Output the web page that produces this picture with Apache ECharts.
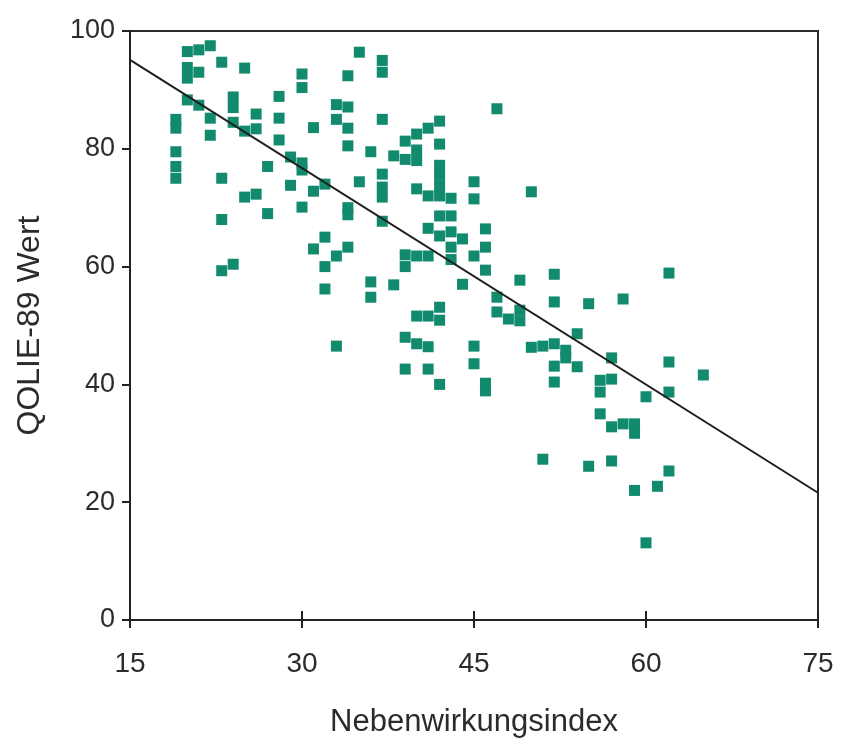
<!DOCTYPE html>
<html><head><meta charset="utf-8">
<script src="https://cdn.jsdelivr.net/npm/echarts@6/dist/echarts.min.js"></script>
<style>html,body{margin:0;padding:0;background:#fff}#c{width:849px;height:746px}</style>
</head><body><div id="c"></div>
<script>
// Tick values
const xTicks = [15, 30, 45, 60, 75];
const yTicks = [0, 20, 40, 60, 80, 100];

// Scatter points: Nebenwirkungsindex (x) and QOLIE-89 Wert (y), paired by index
const nebenwirkungsindex = [
  19,19,19,19,19, 20,20,20,20, 21,21,21, 22,22,22, 23,23,23,23, 24,24,24,24,
  25,25,25, 26,26,26, 27,27, 28,28,28, 29,29, 30,30,30,30,30, 31,31,31,
  32,32,32,32, 33,33,33,33, 34,34,34,34,34,34,34, 35,35, 36,36,36,
  37,37,37,37,37,37,37, 38,38, 39,39,39,39,39,39, 40,40,40,40,40,40,40,
  41,41,41,41,41,41,41, 42,42,42,42,42,42,42,42,42,42,42, 43,43,43,43,43,
  44,44, 45,45,45,45,45, 46,46,46,46,46, 47,47,47, 48, 49,49,49, 50,50,
  51,51, 52,52,52,52,52, 53,53, 54,54, 55,55, 56,56,56, 57,57,57,57,
  58,58, 59,59,59, 60,60, 61, 62,62,62,62, 65
];
const qolieWert = [
  85,83.5,79.5,77,75, 96.5,93.8,92,88.3, 96.8,93,87.4, 97.5,85.2,82.3, 94.7,75,68,59.3, 88.8,87,84.5,60.4,
  93.7,83,71.8, 85.9,83.4,72.3, 77,69, 88.9,85.2,81.5, 78.6,73.8, 92.7,90.4,77.6,76.4,70.1, 83.6,72.8,63,
  74,65,60,56.2, 87.5,85,61.8,46.5, 92.4,87.1,83.5,80.5,70,68.8,63.3, 96.4,74.4, 79.5,57.4,54.8,
  95,93,85,75.7,73.5,71.8,67.7, 78.8,56.9, 81.3,78.2,62,60,48,42.6, 82.5,79.8,78,73.2,61.8,51.6,46.9,
  83.5,72,66.5,61.8,51.6,46.4,42.6, 84.7,80.8,77.2,75.5,73.7,72,68.6,65.2,53.1,50.9,40, 71.6,68.6,65.9,63.3,61.2,
  64.7,57, 74.4,71.5,61.8,46.5,43.5, 66.4,63.3,59.4,40.2,38.9, 86.8,54.8,52.3, 51.1, 57.7,52.6,50.8, 72.7,46.3,
  46.5,27.3, 58.7,54,46.9,43.1,40.4, 45.8,44.5, 48.6,43, 53.7,26.1, 40.7,38.7,35, 44.5,40.9,32.8,27,
  54.5,33.3, 33.3,31.7,22, 37.9,13.1, 22.7, 58.9,43.8,38.7,25.3, 41.6
];

// Regression line end points
const fitLineX = [15, 75];
const fitLineY = [95.1, 21.6];

const FONT = "'Liberation Sans',Arial,sans-serif";
const chart = echarts.init(document.getElementById('c'), null, {renderer: 'canvas'});

const scatterData = nebenwirkungsindex.map((x, i) => [x, qolieWert[i]]);
const lineData = fitLineX.map((x, i) => [x, fitLineY[i]]);

chart.setOption({
  animation: false,
  backgroundColor: '#ffffff',
  grid: {left: 130, top: 31, right: 31, bottom: 126, show: true, borderColor: '#2a2a2a', borderWidth: 2, backgroundColor: 'transparent'},
  xAxis: [{
    type: 'value', min: xTicks[0], max: xTicks[xTicks.length - 1], interval: 15,
    position: 'bottom',
    name: 'Nebenwirkungsindex', nameLocation: 'middle', nameGap: 87,
    nameTextStyle: {fontFamily: FONT, fontSize: 31, color: '#2b2b2b'},
    axisLine: {show: true, onZero: false, lineStyle: {color: '#222', width: 2}},
    axisTick: {show: true, length: 8, lineStyle: {color: '#222', width: 2}},
    axisLabel: {fontFamily: FONT, fontSize: 28, color: '#2b2b2b', margin: 30},
    splitLine: {show: false}
  }, {
    type: 'value', min: xTicks[0], max: xTicks[xTicks.length - 1], interval: 15,
    position: 'bottom', offset: 0,
    axisLine: {show: false},
    axisTick: {show: true, inside: true, length: 9, lineStyle: {color: '#222', width: 2}},
    axisLabel: {show: false},
    splitLine: {show: false}
  }],
  yAxis: [{
    type: 'value', min: yTicks[0], max: yTicks[yTicks.length - 1], interval: 20,
    position: 'left',
    name: 'QOLIE-89 Wert', nameLocation: 'middle', nameGap: 84,
    nameTextStyle: {fontFamily: FONT, fontSize: 32, color: '#2b2b2b'},
    axisLine: {show: true, onZero: false, lineStyle: {color: '#222', width: 2}},
    axisTick: {show: true, length: 8, lineStyle: {color: '#222', width: 2}},
    axisLabel: {fontFamily: FONT, fontSize: 27, color: '#2b2b2b', margin: 15},
    splitLine: {show: false}
  }],
  series: [{
    type: 'scatter', xAxisIndex: 0, yAxisIndex: 0,
    data: scatterData, symbol: 'rect', symbolSize: 11,
    itemStyle: {color: '#128a6e', opacity: 1},
    z: 2
  }, {
    type: 'line', xAxisIndex: 0, yAxisIndex: 0,
    data: lineData, showSymbol: false, symbol: 'none',
    lineStyle: {color: '#1e1e1e', width: 2},
    z: 3, silent: true
  }]
});
</script>
</body></html>
